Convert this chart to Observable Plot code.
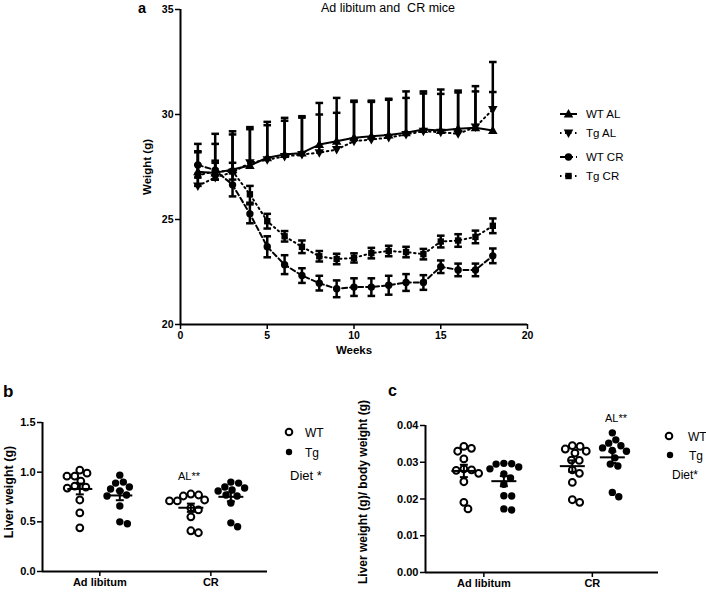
<!DOCTYPE html>
<html><head><meta charset="utf-8">
<script src="https://cdn.jsdelivr.net/npm/d3@7"></script>
<script src="https://cdn.jsdelivr.net/npm/@observablehq/plot@0.6"></script>
<style>
html,body{margin:0;padding:0;background:#fff;}
#root{position:relative;width:706px;height:592px;overflow:hidden;font-family:"Liberation Sans",Arial,Helvetica,sans-serif;}
#root > svg{position:absolute;}
</style></head><body><div id="root"></div>
<script>
// ---------- Panel a: body weight over weeks ----------
const weeks = [1,2,3,4,5,6,7,8,9,10,11,12,13,14,15,16,17,18];
const wtAL    = [27.27,27.22,27.38,27.57,27.94,28.10,28.17,28.57,28.73,28.89,28.97,29.02,29.13,29.29,29.24,29.32,29.37,29.24];
const wtALErr = [1.33,1.86,1.82,1.83,1.71,1.74,1.75,1.98,2.06,1.77,1.69,1.73,1.97,1.81,1.95,1.82,1.98,3.26];
const tgAL    = [26.60,27.00,27.25,27.70,27.85,28.00,28.10,28.18,28.33,28.73,28.81,28.90,29.05,29.20,29.16,29.08,29.40,30.24];
const tgALErr = [1.65,1.60,1.80,1.60,1.64,1.70,1.75,1.82,1.75,1.87,1.79,1.80,1.74,1.80,1.82,1.97,1.70,0.83];
const wtCR    = [27.60,27.35,26.65,25.27,23.70,22.85,22.33,21.97,21.70,21.78,21.78,21.87,22.00,22.00,22.75,22.60,22.60,23.27];
const wtCRErr = [0.60,0.45,0.55,0.45,0.50,0.45,0.35,0.35,0.40,0.42,0.42,0.45,0.40,0.35,0.30,0.30,0.30,0.35];
const tgCR    = [27.10,27.30,27.30,26.20,24.92,24.20,23.70,23.25,23.12,23.17,23.40,23.50,23.45,23.35,23.95,24.00,24.17,24.70];
const tgCRErr = [0.50,0.40,0.40,0.40,0.35,0.25,0.30,0.25,0.25,0.22,0.25,0.25,0.25,0.25,0.28,0.30,0.30,0.35];
const seriesNames = ["WT AL","Tg AL","WT CR","Tg CR"];
const weightTicks = [20,25,30,35];
const weekTicks = [0,5,10,15,20];

// ---------- Panels b, c: liver weight scatter ----------
const dietCategories = ["Ad libitum","CR"];
const genotypes = ["WT","Tg"];
const liverWT_AL = [1.02,0.99,0.96,0.96,0.91,0.86,0.85,0.84,0.72,0.59,0.44];
const liverTg_AL = [0.97,0.90,0.89,0.85,0.83,0.81,0.77,0.76,0.66,0.50,0.48];
const liverWT_CR = [0.78,0.77,0.76,0.72,0.71,0.71,0.64,0.62,0.55,0.41,0.39];
const liverTg_CR = [0.90,0.89,0.85,0.84,0.82,0.81,0.77,0.76,0.69,0.49,0.45];
const liverTicks = [0,0.5,1.0,1.5];
const ratioWT_AL = [0.0343,0.0338,0.0330,0.0309,0.0282,0.0279,0.0278,0.0270,0.0247,0.0191,0.0173];
const ratioTg_AL = [0.0297,0.0296,0.0295,0.0287,0.0282,0.0268,0.0257,0.0240,0.0209,0.0208,0.0173,0.0170];
const ratioWT_CR = [0.0345,0.0343,0.0336,0.0330,0.0325,0.0306,0.0305,0.0279,0.0270,0.0245,0.0198,0.0191];
const ratioTg_CR = [0.0380,0.0361,0.0352,0.0345,0.0339,0.0332,0.0330,0.0312,0.0295,0.0290,0.0218,0.0206];
const ratioTicks = [0,0.01,0.02,0.03,0.04];

const FONT = '"Liberation Sans", Arial, Helvetica, sans-serif';
const root = document.getElementById("root");

// custom symbols
const hbar = {draw(ctx, size){ const w = Math.sqrt(size/Math.PI); ctx.moveTo(-w,0); ctx.lineTo(w,0);} };
const triUp = {draw(ctx, size){ const s = Math.sqrt(size/Math.PI)*1.25; ctx.moveTo(0,-s); ctx.lineTo(s*0.95,s*0.7); ctx.lineTo(-s*0.95,s*0.7); ctx.closePath();} };
const triDown = {draw(ctx, size){ const s = Math.sqrt(size/Math.PI)*1.25; ctx.moveTo(0,s); ctx.lineTo(s*0.95,-s*0.7); ctx.lineTo(-s*0.95,-s*0.7); ctx.closePath();} };

const seriesData = {"WT AL":[wtAL,wtALErr],"Tg AL":[tgAL,tgALErr],"WT CR":[wtCR,wtCRErr],"Tg CR":[tgCR,tgCRErr]};
const seriesStyle = {
  "WT AL": {dash: null, symbol: triUp, r: 4, upper: true},
  "Tg AL": {dash: "1.5,3.5", symbol: triDown, r: 4, upper: true},
  "WT CR": {dash: "5,3", symbol: "circle", r: 3.7, upper: false},
  "Tg CR": {dash: "1.5,3.5", symbol: "square", r: 3.6, upper: false}
};

function yTitle(label, offset, size, dy) {
  return Plot.text([label], {frameAnchor:"left", textAnchor:"middle", lineAnchor:"middle", rotate:-90, dx:-offset, dy:dy||0, fontSize:size, fontWeight:"bold", fill:"black"});
}

// ----- Panel a -----
(function(){
  const marks = [];
  for (const name of seriesNames) {
    const [m, e] = seriesData[name];
    const st = seriesStyle[name];
    const d = weeks.map((w,i) => ({week:w, mean:m[i], err:e[i]}));
    marks.push(Plot.ruleX(d, {x:"week", y1: r => st.upper ? r.mean : r.mean - r.err, y2: r => r.mean + r.err, stroke:"black", strokeWidth:2.5}));
    marks.push(Plot.dot(d, {x:"week", y: r => r.mean + r.err, symbol: hbar, r: 3.8, fill:"none", stroke:"black", strokeWidth:2.5}));
    if (!st.upper) marks.push(Plot.dot(d, {x:"week", y: r => r.mean - r.err, symbol: hbar, r: 3.8, fill:"none", stroke:"black", strokeWidth:2.5}));
    const lineOpts = {x:"week", y:"mean", stroke:"black", strokeWidth:2};
    if (st.dash) lineOpts.strokeDasharray = st.dash;
    marks.push(Plot.line(d, lineOpts));
    marks.push(Plot.dot(d, {x:"week", y:"mean", symbol: st.symbol, r: st.r, fill:"black", stroke:"none"}));
  }
  const svg = Plot.plot({
    width:440, height:362, marginLeft:80, marginRight:13, marginTop:9, marginBottom:38,
    x:{domain:[0,20]}, y:{domain:[20,35]},
    style:{fontFamily:FONT, color:"black", background:"transparent", overflow:"visible"},
    marks:[
      Plot.axisX({ticks:weekTicks, tickSize:5, tickPadding:2, fontWeight:"bold", fontSize:10.5, strokeWidth:1.5, label:null}),
      Plot.axisY({ticks:weightTicks, tickSize:5, tickPadding:2, fontWeight:"bold", fontSize:10.5, strokeWidth:1.5, label:null}),
      Plot.text(["Weeks"], {frameAnchor:"bottom", dy:29, fontSize:11.5, fontWeight:"bold", fill:"black"}),
      yTitle("Weight (g)", 33, 11.5),
      Plot.ruleY([20], {strokeWidth:2}),
      Plot.ruleX([0], {strokeWidth:2}),
      ...marks
    ]
  });
  svg.style.left = "100px"; svg.style.top = "0px";
  root.appendChild(svg);
})();

// ----- beeswarm helper (pixel-based dodge) -----
function swarm(values, pxPerY, D) {
  const idx = values.map((v,i)=>i).sort((a,b)=>values[b]-values[a]);
  const placed = []; const off = new Array(values.length);
  for (const i of idx) {
    const y = values[i]*pxPerY;
    const cands = [0];
    for (const p of placed) {
      const dy = Math.abs(p.y - y);
      if (dy < D) { const dx = Math.sqrt(D*D - dy*dy); cands.push(p.x+dx, p.x-dx); }
    }
    cands.sort((a,b)=>Math.abs(a)-Math.abs(b) || b-a);
    const x = cands.find(c => placed.every(p => (p.x-c)**2 + (p.y-y)**2 >= D*D - 1e-6));
    placed.push({x,y}); off[i] = x;
  }
  return off; // px
}

function scatterPanel(opts) {
  const {groups, yDomain, xDomain, width, height, mL, mR, mT, mB, left, top, yTicks, yFormat, yLabel, yLabelOffset, yLabelSize, yLabelDy} = opts;
  const pxPerY = (height - mT - mB) / (yDomain[1] - yDomain[0]);
  const pxPerX = (width - mL - mR) / (xDomain[1] - xDomain[0]);
  const pts = [], stats = [];
  groups.forEach(g => {
    const center = 1 + dietCategories.indexOf(g.diet) + (g.geno === "WT" ? -20 : 20) / pxPerX;
    const offs = swarm(g.values, pxPerY, 7.8);
    g.values.forEach((v,i) => pts.push({x: center + offs[i]/pxPerX, y: v, geno: g.geno}));
    const mean = d3.mean(g.values);
    const sem = d3.deviation(g.values) / Math.sqrt(g.values.length);
    stats.push({x:center, mean, lo: mean - sem, hi: mean + sem});
  });
  const svg = Plot.plot({
    width, height, marginLeft:mL, marginRight:mR, marginTop:mT, marginBottom:mB,
    x:{domain:xDomain}, y:{domain:yDomain},
    style:{fontFamily:FONT, color:"black", background:"transparent", overflow:"visible"},
    marks:[
      Plot.axisX({ticks:[1,2], tickFormat: d => dietCategories[d-1], tickSize:5, tickPadding:2, fontWeight:"bold", fontSize:11, strokeWidth:1.5, label:null}),
      Plot.axisY({ticks:yTicks, tickFormat: d3.format(yFormat), tickSize:5, tickPadding:2, fontWeight:"bold", fontSize:11, strokeWidth:1.5, label:null}),
      yTitle(yLabel, yLabelOffset, yLabelSize, yLabelDy),
      Plot.ruleY([yDomain[0]], {strokeWidth:2}),
      Plot.ruleX([xDomain[0]], {strokeWidth:2}),
      Plot.dot(pts.filter(p => p.geno === "WT"), {x:"x", y:"y", r:3.4, fill:"white", stroke:"black", strokeWidth:2}),
      Plot.dot(pts.filter(p => p.geno === "Tg"), {x:"x", y:"y", r:3.7, fill:"black", stroke:"none"}),
      Plot.ruleX(stats, {x:"x", y1:"lo", y2:"hi", stroke:"black", strokeWidth:2}),
      Plot.dot(stats, {x:"x", y:"hi", symbol:hbar, r:4, fill:"none", stroke:"black", strokeWidth:2}),
      Plot.dot(stats, {x:"x", y:"lo", symbol:hbar, r:4, fill:"none", stroke:"black", strokeWidth:2}),
      Plot.dot(stats, {x:"x", y:"mean", symbol:hbar, r:12.5, fill:"none", stroke:"black", strokeWidth:2})
    ]
  });
  svg.style.left = left + "px"; svg.style.top = top + "px";
  root.appendChild(svg);
}

scatterPanel({
  groups:[{diet:"Ad libitum", geno:"WT", values:liverWT_AL},{diet:"Ad libitum", geno:"Tg", values:liverTg_AL},
          {diet:"CR", geno:"WT", values:liverWT_CR},{diet:"CR", geno:"Tg", values:liverTg_CR}],
  yDomain:[0,1.5], xDomain:[0.484,2.51], width:280, height:182, mL:42, mR:13, mT:12, mB:21, left:0, top:410,
  yTicks:liverTicks, yFormat:".1f", yLabel:"Liver weight (g)", yLabelOffset:34, yLabelSize:12.5, yLabelDy:-5
});
scatterPanel({
  groups:[{diet:"Ad libitum", geno:"WT", values:ratioWT_AL},{diet:"Ad libitum", geno:"Tg", values:ratioTg_AL},
          {diet:"CR", geno:"WT", values:ratioWT_CR},{diet:"CR", geno:"Tg", values:ratioTg_CR}],
  yDomain:[0,0.04], xDomain:[0.462,2.61], width:320, height:182, mL:75, mR:12, mT:15, mB:20, left:350, top:410,
  yTicks:ratioTicks, yFormat:".2f", yLabel:"Liver weight (g)/ body weight (g)", yLabelOffset:62, yLabelSize:12, yLabelDy:-7
});

// ----- overlay: panel letters, title, legends, annotations -----
const ov = d3.create("svg").attr("width",706).attr("height",592)
  .style("left","0px").style("top","0px").style("pointer-events","none")
  .style("font-family", FONT);
function txt(x, y, s, size, weight, anchor) {
  ov.append("text").attr("x",x).attr("y",y).attr("font-size",size).attr("font-weight",weight||"normal")
    .attr("text-anchor",anchor||"start").attr("fill","black").style("white-space","pre").text(s);
}
txt(138, 13, "a", 14.5, "bold");
txt(3, 397, "b", 17, "bold");
txt(388, 396, "c", 16, "bold");
txt(388, 11.5, "Ad libitum and  CR mice", 12.5, "normal", "middle");
txt(189, 480, "AL**", 11, "normal", "middle");
txt(616, 422, "AL**", 11, "normal", "middle");

// legend a
const legYs = [114, 133, 157, 176];
seriesNames.forEach((name, i) => {
  const st = seriesStyle[name], y = legYs[i];
  const ln = ov.append("line").attr("x1",560).attr("x2",577).attr("y1",y).attr("y2",y).attr("stroke","black").attr("stroke-width",2);
  if (st.dash) ln.attr("stroke-dasharray", st.dash);
  const symType = st.symbol === "circle" ? d3.symbolCircle : st.symbol === "square" ? d3.symbolSquare : st.symbol;
  ov.append("path").attr("transform",`translate(568.5,${y})`).attr("d", d3.symbol(symType, st.r*st.r*Math.PI)()).attr("fill","black");
  txt(586, y + 4, name, 11.5);
});
// legend b
ov.append("circle").attr("cx",289).attr("cy",432).attr("r",3.3).attr("fill","white").attr("stroke","black").attr("stroke-width",2);
txt(305, 436.5, genotypes[0], 12);
ov.append("circle").attr("cx",289).attr("cy",452).attr("r",3.2).attr("fill","black");
txt(305, 456.5, genotypes[1], 12);
txt(290, 480, "Diet *", 13);
// legend c
ov.append("circle").attr("cx",669).attr("cy",436).attr("r",3.3).attr("fill","white").attr("stroke","black").attr("stroke-width",2);
txt(688, 440.5, genotypes[0], 12);
ov.append("circle").attr("cx",670).attr("cy",455).attr("r",3.2).attr("fill","black");
txt(689, 459.5, genotypes[1], 12);
txt(672, 479, "Diet*", 12);
root.appendChild(ov.node());
</script>
</body></html>
